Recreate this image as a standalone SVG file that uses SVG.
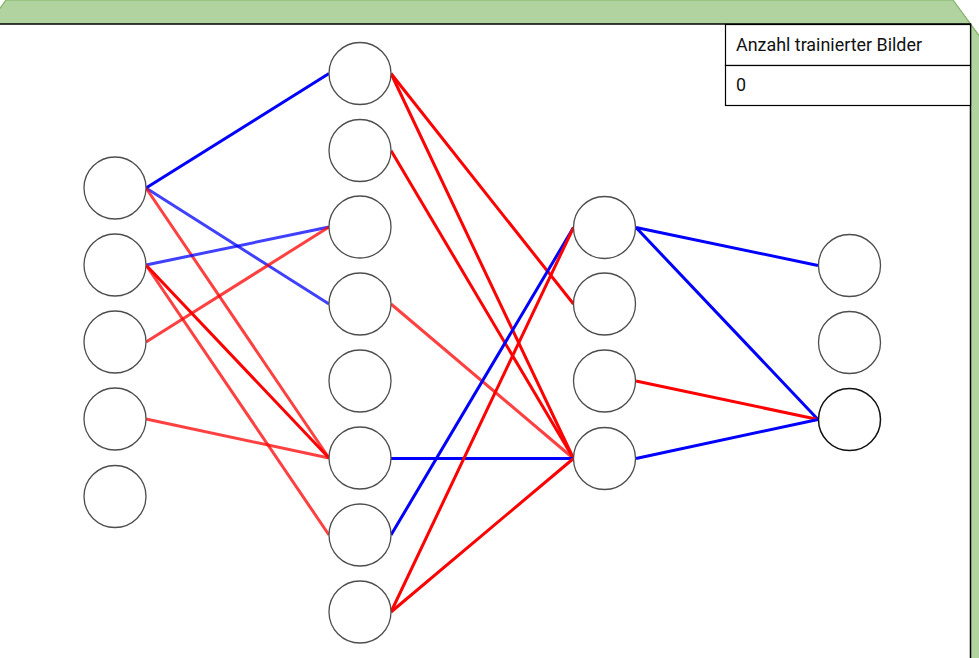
<svg xmlns="http://www.w3.org/2000/svg" width="979" height="658" viewBox="0 0 979 658">
<style>
.n{fill:#fff;stroke:#4d4d4d;stroke-width:1.3}
.b{stroke:#0000ff;stroke-width:3;fill:none}
.r{stroke:#ff0000;stroke-width:3;fill:none}
.l{stroke-opacity:0.75}
.t{font-family:Roboto,"Liberation Sans",sans-serif;font-size:17.9px;fill:#111}
.cell{fill:#fff;stroke:#000;stroke-width:1.2}
</style>
<rect width="979" height="658" fill="#fff"/>
<g id="frame">
<polygon points="-2,11 6,0 953,0 980,37 980,660 -2,660" fill="#b0d3a0" stroke="#82b366" stroke-width="1.2"/>
<rect x="-2" y="24" width="972.5" height="700" fill="#fff" stroke="#000" stroke-width="1.5"/>
</g>
<g id="table">
<rect class="cell" x="725.5" y="24.5" width="245" height="41"/>
<rect class="cell" x="725.5" y="65.5" width="245" height="40"/>
<text class="t" x="736" y="51">Anzahl trainierter Bilder</text>
<text class="t" x="736" y="91">0</text>
</g>
<g id="connectors">
<line class="b" x1="146" y1="188" x2="329" y2="73.5"/>
<line class="b l" x1="146" y1="188" x2="329" y2="304"/>
<line class="r l" x1="146" y1="188" x2="329" y2="458"/>
<line class="b l" x1="146" y1="265" x2="329" y2="227"/>
<line class="r" x1="146" y1="265" x2="329" y2="458"/>
<line class="r l" x1="146" y1="265" x2="329" y2="535"/>
<line class="r l" x1="146" y1="342" x2="329" y2="227"/>
<line class="r l" x1="146" y1="419" x2="329" y2="458"/>
<line class="r" x1="391" y1="73.5" x2="573.5" y2="304"/>
<line class="r" x1="391" y1="73.5" x2="573.5" y2="458.5"/>
<line class="r" x1="391" y1="150.5" x2="573.5" y2="458.5"/>
<line class="r l" x1="391" y1="304" x2="573.5" y2="458.5"/>
<line class="b" x1="391" y1="458.5" x2="573.5" y2="458.5"/>
<line class="b" x1="391" y1="535" x2="573.5" y2="227.5"/>
<line class="r" x1="391" y1="612" x2="573.5" y2="227.5"/>
<line class="r" x1="391" y1="612" x2="573.5" y2="458.5"/>
<line class="b" x1="636" y1="227.5" x2="818" y2="265.5"/>
<line class="b" x1="636" y1="227.5" x2="818" y2="419.5"/>
<line class="r" x1="636" y1="381" x2="818" y2="419.5"/>
<line class="b" x1="636" y1="458.5" x2="818" y2="419.5"/>
</g>
<g id="input-layer">
<circle id="i1" class="n" cx="115" cy="188" r="31"/>
<circle id="i2" class="n" cx="115" cy="265" r="31"/>
<circle id="i3" class="n" cx="115" cy="342" r="31"/>
<circle id="i4" class="n" cx="115" cy="419" r="31"/>
<circle id="i5" class="n" cx="115" cy="496.5" r="31"/>
</g>
<g id="hidden-layer-1">
<circle id="h1" class="n" cx="360" cy="73.5" r="31"/>
<circle id="h2" class="n" cx="360" cy="150.5" r="31"/>
<circle id="h3" class="n" cx="360" cy="227" r="31"/>
<circle id="h4" class="n" cx="360" cy="304" r="31"/>
<circle id="h5" class="n" cx="360" cy="381" r="31"/>
<circle id="h6" class="n" cx="360" cy="458" r="31"/>
<circle id="h7" class="n" cx="360" cy="535" r="31"/>
<circle id="h8" class="n" cx="360" cy="612" r="31"/>
</g>
<g id="hidden-layer-2">
<circle id="k1" class="n" cx="604.5" cy="227.5" r="31"/>
<circle id="k2" class="n" cx="604.5" cy="304" r="31"/>
<circle id="k3" class="n" cx="604.5" cy="381" r="31"/>
<circle id="k4" class="n" cx="604.5" cy="458.5" r="31"/>
</g>
<g id="output-layer">
<circle id="o1" class="n" cx="849.5" cy="265.5" r="31"/>
<circle id="o2" class="n" cx="849.5" cy="342.5" r="31"/>
<circle id="o3" class="n" cx="849.5" cy="419.5" r="31" style="stroke:#111;stroke-width:1.5"/>
</g>
</svg>
